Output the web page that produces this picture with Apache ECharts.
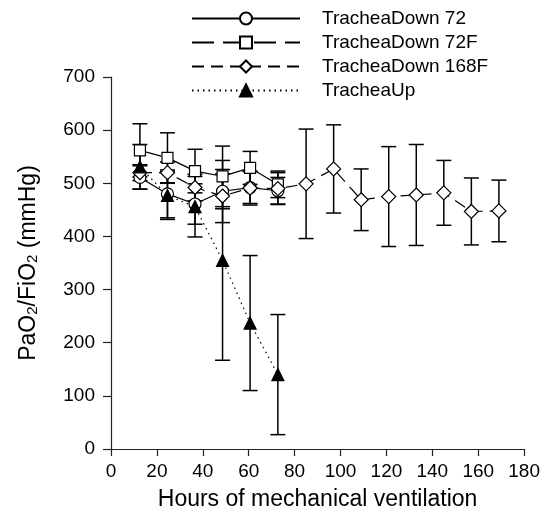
<!DOCTYPE html>
<html>
<head>
<meta charset="utf-8">
<script src="https://cdn.jsdelivr.net/npm/echarts@6/dist/echarts.min.js"></script>
<style>html,body{margin:0;padding:0;background:#fff;}#c{width:543px;height:516px;}</style>
</head>
<body>
<div id="c"></div>
<script>
const hours = [12.6, 24.6, 36.6, 48.6, 60.6, 72.7, 85, 97, 109, 121, 133, 145, 157, 169];
const down72 = [511, 480, 461, 485, 492, 486];
const down72Sd = [22, 45, 38, 33, 30, 25];
const down72F = [562, 548, 523, 513, 529, 498];
const down72FSd = [50, 47, 41, 57, 31, 25];
const down168F = [520, 520, 492, 476, 491, 490, 499, 527, 469, 475, 478, 482, 447, 448];
const down168FSd = [15, 20, 25, 50, 32, 30, 103, 83, 58, 94, 95, 61, 63, 58];
const up = [531, 477, 456, 355, 237, 140];
const upSd = [42, 45, 57, 188, 127, 113];
const xTicks = [0, 20, 40, 60, 80, 100, 120, 140, 160, 180];
const yTicks = [0, 100, 200, 300, 400, 500, 600, 700];

const FONT = '"Liberation Sans", Arial, sans-serif';
const pts = (vals) => vals.map((v, i) => [hours[i], v]);
const errs = (vals, sd) => vals.map((v, i) => [hours[i], v - sd[i], v + sd[i]]);

function errRender(params, api) {
  const x = api.value(0);
  const lo = api.coord([x, api.value(1)]);
  const hi = api.coord([x, api.value(2)]);
  const hw = 7.5;
  const st = { stroke: '#000', lineWidth: 1.5 };
  return {
    type: 'group',
    children: [
      { type: 'line', shape: { x1: lo[0], y1: lo[1], x2: hi[0], y2: hi[1] }, style: st },
      { type: 'line', shape: { x1: lo[0] - hw, y1: lo[1], x2: lo[0] + hw, y2: lo[1] }, style: st },
      { type: 'line', shape: { x1: hi[0] - hw, y1: hi[1], x2: hi[0] + hw, y2: hi[1] }, style: st }
    ]
  };
}
function errSeries(name, vals, sd) {
  return { name: name, type: 'custom', renderItem: errRender, data: errs(vals, sd), z: 1, silent: true };
}
function lineSeries(name, vals, symbol, size, dash, fill) {
  return {
    name: name, type: 'line', data: pts(vals), symbol: symbol, symbolSize: size, z: 3,
    showAllSymbol: true,
    lineStyle: { color: '#000', width: 1.2, type: dash },
    itemStyle: { color: fill, borderColor: '#000', borderWidth: 1.2 }
  };
}

const chart = echarts.init(document.getElementById('c'), null, { renderer: 'canvas' });
chart.setOption({
  animation: false,
  backgroundColor: '#fff',
  textStyle: { fontFamily: FONT },
  legend: {
    data: ['TracheaDown 72', 'TracheaDown 72F', 'TracheaDown 168F', 'TracheaUp'],
    orient: 'vertical', left: 186, top: 4,
    itemWidth: 108, itemHeight: 15, itemGap: 5,
    textStyle: { fontFamily: FONT, fontSize: 19, color: '#000', padding: [0, 0, 0, 17] }
  },
  grid: { left: 111, right: 18, top: 77, bottom: 66 },
  xAxis: {
    type: 'value', min: xTicks[0], max: xTicks[xTicks.length - 1], interval: 20,
    name: 'Hours of mechanical ventilation', nameLocation: 'middle', nameGap: 39,
    nameTextStyle: { fontFamily: FONT, fontSize: 23, color: '#000' },
    axisLine: { lineStyle: { color: '#222', width: 1.2 } },
    axisTick: { length: 7, lineStyle: { color: '#222', width: 1.2 } },
    axisLabel: { fontFamily: FONT, fontSize: 19, color: '#000', margin: 13 },
    splitLine: { show: false }
  },
  yAxis: {
    type: 'value', min: yTicks[0], max: yTicks[yTicks.length - 1], interval: 100,
    name: 'PaO{sub|2}/FiO{sub|2} (mmHg)', nameLocation: 'middle', nameGap: 71,
    nameTextStyle: { fontFamily: FONT, fontSize: 23, color: '#000', lineHeight: 23,
      rich: { sub: { fontFamily: FONT, fontSize: 15, color: '#000', verticalAlign: 'bottom', lineHeight: 10 } } },
    axisLine: { show: true, lineStyle: { color: '#222', width: 1.2 } },
    axisTick: { show: true, length: 8, lineStyle: { color: '#222', width: 1.2 } },
    axisLabel: { fontFamily: FONT, fontSize: 19, color: '#000', margin: 16 },
    splitLine: { show: false }
  },
  series: [
    errSeries('e72', down72, down72Sd),
    errSeries('e72F', down72F, down72FSd),
    errSeries('e168F', down168F, down168FSd),
    errSeries('eUp', up, upSd),
    lineSeries('TracheaDown 72', down72, 'circle', 12, 'solid', '#fff'),
    lineSeries('TracheaDown 72F', down72F, 'rect', 11, [22, 9], '#fff'),
    lineSeries('TracheaDown 168F', down168F, 'diamond', 14, [12, 7], '#fff'),
    lineSeries('TracheaUp', up, 'triangle', 12, [1.5, 4], '#000')
  ]
});
</script>
</body>
</html>
